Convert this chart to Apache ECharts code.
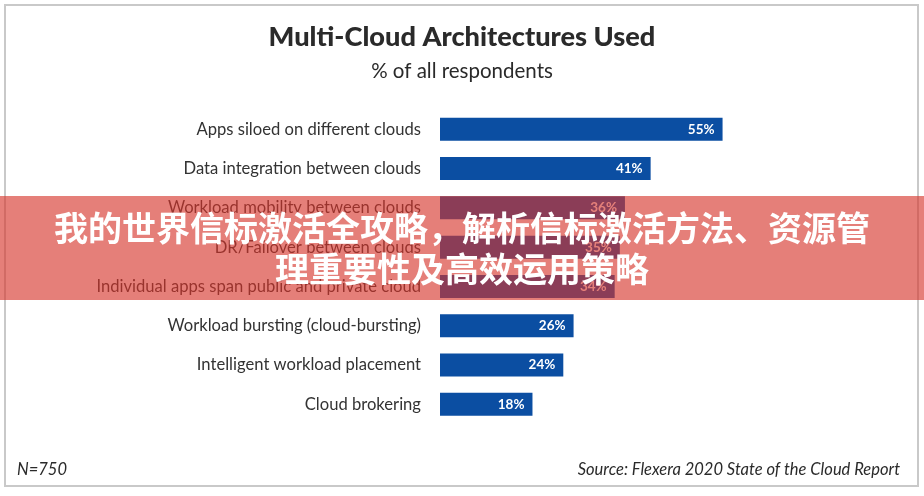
<!DOCTYPE html>
<html>
<head>
<meta charset="utf-8">
<script src="https://cdn.jsdelivr.net/npm/echarts@6/dist/echarts.min.js"></script>
<style>html,body{margin:0;padding:0;background:#fff}#c{width:924px;height:496px}</style>
</head>
<body>
<div id="c"></div>
<script>
var categories = [
  "Apps siloed on different clouds",
  "Data integration between clouds",
  "Workload mobility between clouds",
  "DR/Failover between clouds",
  "Individual apps span public and private cloud",
  "Workload bursting (cloud-bursting)",
  "Intelligent workload placement",
  "Cloud brokering"
];
var values = [55, 41, 36, 35, 34, 26, 24, 18];
var titleText = "Multi-Cloud Architectures Used";
var subtitleText = "% of all respondents";
var noteLeft = "N=750";
var noteRight = "Source: Flexera 2020 State of the Cloud Report";
var bannerLines = ["我的世界信标激活全攻略，解析信标激活方法、资源管", "理重要性及高效运用策略"];

var chart = echarts.init(document.getElementById('c'), null, {renderer: 'canvas'});
chart.setOption({
  backgroundColor: '#ffffff',
  animation: false,
  title: [
    {text: titleText, left: 'center', top: 19,
     textStyle: {fontFamily: 'Lato', fontWeight: 900, fontSize: 27.2, color: '#2a2a2a'}},
    {text: subtitleText, left: 'center', top: 56,
     textStyle: {fontFamily: 'Lato', fontWeight: 'normal', fontSize: 20.5, color: '#2a2a2a'}}
  ],
  grid: {left: 440, right: 73, top: 109.6, bottom: 72, containLabel: false},
  xAxis: {type: 'value', min: 0, max: 80, show: false},
  yAxis: {
    type: 'category', data: categories, inverse: true,
    axisLine: {show: false}, axisTick: {show: false}, splitLine: {show: false},
    axisLabel: {margin: 19, fontFamily: 'Lato', fontSize: 16.6, color: '#333333'}
  },
  series: [{
    type: 'bar', data: values, barWidth: 23,
    itemStyle: {color: '#0b4ea2'},
    label: {show: true, position: 'insideRight', distance: 8,
      formatter: '{c}%', color: '#ffffff', fontFamily: 'Lato', fontWeight: 'bold', fontSize: 13.5}
  }],
  graphic: [
    {type: 'rect', z: 0, silent: true,
     shape: {x: 5, y: 5, width: 913, height: 481},
     style: {fill: 'none', stroke: '#c9c9c9', lineWidth: 2}},
    {type: 'text', z: 10, left: 17, top: 461,
     style: {text: noteLeft, font: 'italic 16.5px Lato', fill: '#2a2a2a'}},
    {type: 'text', z: 10, right: 24, top: 461,
     style: {text: noteRight, font: 'italic 16.5px Lato', fill: '#2a2a2a', textAlign: 'right'}},
    {type: 'rect', z: 100, silent: true,
     shape: {x: 0, y: 196, width: 924, height: 104},
     style: {fill: 'rgba(214,53,42,0.63)'}},
    {type: 'text', z: 101, left: 'center', top: 211,
     style: {text: bannerLines[0], font: 'bold 34px "Noto Sans CJK SC"', fill: '#ffffff',
       shadowColor: 'rgba(0,0,0,0.25)', shadowBlur: 2}},
    {type: 'text', z: 101, left: 'center', top: 252,
     style: {text: bannerLines[1], font: 'bold 34px "Noto Sans CJK SC"', fill: '#ffffff',
       shadowColor: 'rgba(0,0,0,0.25)', shadowBlur: 2}}
  ]
});
</script>
</body>
</html>
